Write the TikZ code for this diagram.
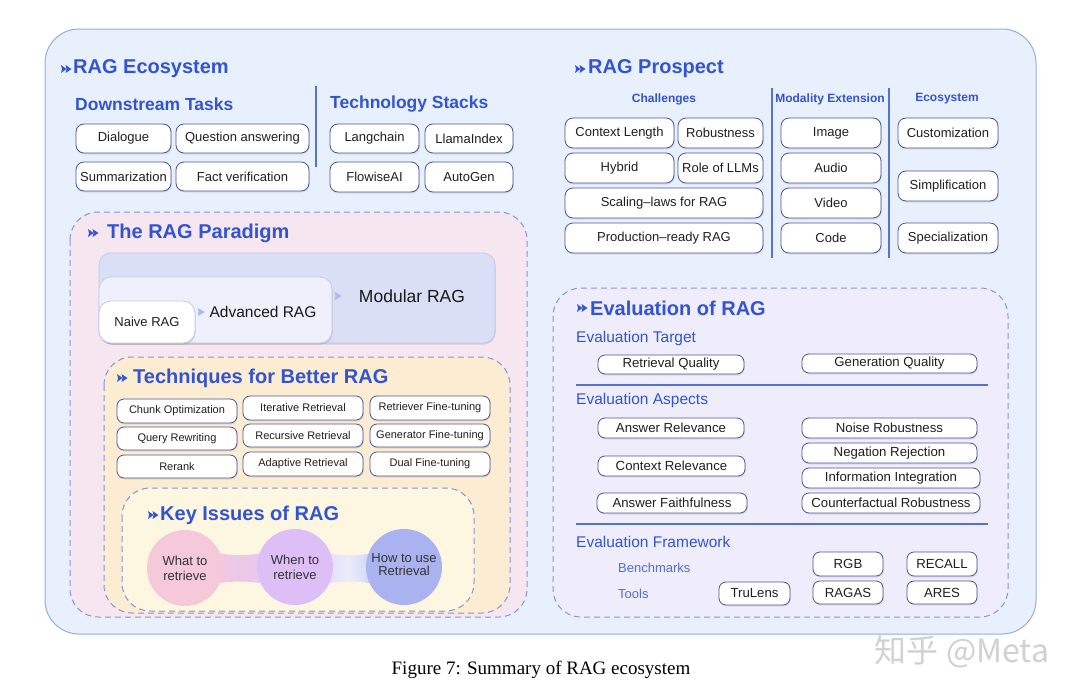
\documentclass[tikz,border=0pt]{standalone}
\usepackage{fontspec}
\setmainfont{Liberation Sans}
\newfontfamily\capfont{Liberation Serif}
\newfontfamily\cjkfont{Noto Sans CJK SC}
\usetikzlibrary{shadows,arrows.meta}
\definecolor{titleblue}{RGB}{50,84,208}
\definecolor{bxborder}{RGB}{72,86,150}
\definecolor{outerfill}{RGB}{233,240,253}
\definecolor{outerdraw}{RGB}{150,172,228}
\definecolor{dashc}{RGB}{135,148,218}
\definecolor{pinkfill}{RGB}{246,230,240}
\definecolor{orangefill}{RGB}{252,236,210}
\definecolor{creamfill}{RGB}{253,247,226}
\definecolor{evalfill}{RGB}{239,237,252}
\definecolor{divc}{RGB}{85,115,205}
\definecolor{modfill}{RGB}{218,223,246}
\definecolor{advfill}{RGB}{238,240,251}
\definecolor{pdraw}{RGB}{195,202,240}
\definecolor{parrow}{RGB}{180,186,236}
\definecolor{kpink}{RGB}{245,200,218}
\definecolor{kpurple}{RGB}{222,190,246}
\definecolor{kblue}{RGB}{170,178,240}
\newcommand\mybox[6]{\node[bx,#1,minimum width={(#4-#2)*1pt},minimum height={(#5-#3)*1pt}] (#6) at ({(#2+#4)/2},{(#3+#5)/2})}
\tikzset{
  bx/.style={draw=bxborder, line width=0.8pt, fill=white, rounded corners=8pt, inner sep=0pt,
    font=\fontsize{13}{15}\selectfont, text=black!88,
    drop shadow={opacity=0.18, shadow xshift=0.8pt, shadow yshift=-1.5pt}},
  sm/.style={font=\fontsize{11}{13}\selectfont, rounded corners=7pt},
  ev/.style={font=\fontsize{13.2}{15}\selectfont, rounded corners=7pt},
  pbox/.style={draw=pdraw, fill=modfill, rounded corners=12pt, drop shadow={opacity=0.10, shadow xshift=0.5pt, shadow yshift=-1.5pt}},
  ttlfont/.style={font=\fontsize{20}{24}\selectfont\bfseries, text=titleblue, inner sep=0pt, anchor=west},
  subttl/.style={font=\fontsize{17.5}{21}\selectfont\bfseries, text=titleblue, inner sep=0pt, anchor=west},
  hdr/.style={font=\fontsize{12}{14}\selectfont\bfseries, text=titleblue, inner sep=0pt},
  evlbl/.style={font=\fontsize{15.5}{18}\selectfont, text=titleblue, inner sep=0pt, anchor=west},
  evsub/.style={font=\fontsize{13}{15}\selectfont, text=titleblue!85, inner sep=0pt, anchor=west},
  region/.style={draw=dashc, line width=1pt, dash pattern=on 6pt off 4pt, rounded corners=28pt},
  divline/.style={draw=divc, line width=1.3pt},
  circ/.style={circle, minimum size=76pt, inner sep=0pt, align=center, font=\fontsize{13}{15}\selectfont, text=black!80},
  ttl/.pic={\fill[titleblue] (0,-4)--(5.5,0)--(0,4)--(1,0)--cycle;
            \fill[titleblue] (4.5,-4)--(10.5,0)--(4.5,4)--(5.5,0)--cycle;}
}
\begin{document}
\begin{tikzpicture}[x=1pt,y=-1pt]
\useasboundingbox (0,0) rectangle (1080,696);
\fill[white] (0,0) rectangle (1080,696);
% outer box
\path[draw=outerdraw, fill=outerfill, line width=1pt, rounded corners=34pt] (45,29) rectangle (1036,634);

% ---------- RAG Ecosystem ----------
\pic at (61,69) {ttl};
\node[ttlfont] (ecot) at (73,69) {RAG Ecosystem};
\node[subttl] (dst) at (75,104) {Downstream Tasks};
\node[subttl] (tst) at (330,104) {Technology Stacks};
\coordinate (d1a) at (316,86); \coordinate (d1b) at (316,167);
\draw[divline] (d1a) -- (d1b);
\mybox{}{76}{124}{171}{153}{dlg} {Dialogue};
\mybox{}{176}{124}{309}{153}{qa} {Question answering};
\mybox{}{76}{162}{171}{191}{summ} {Summarization};
\mybox{}{176}{162}{309}{191}{fact} {Fact verification};
\mybox{}{330}{124}{419}{153}{lang} {Langchain};
\mybox{}{425}{124}{513}{153}{llama} {LlamaIndex};
\mybox{}{330}{162}{419}{192}{flow} {FlowiseAI};
\mybox{}{425}{162}{513}{192}{autog} {AutoGen};

% ---------- RAG Prospect ----------
\pic at (575,69) {ttl};
\node[ttlfont] (prost) at (588,69) {RAG Prospect};
\node[hdr] (chh) at (664,99) {Challenges};
\node[hdr] (modh) at (830,99) {Modality Extension};
\node[hdr] (ecoh) at (947,99) {Ecosystem};
\coordinate (d2a) at (772,88); \coordinate (d2b) at (772,258);
\coordinate (d3a) at (889,88); \coordinate (d3b) at (889,258);
\draw[divline] (d2a) -- (d2b);
\draw[divline] (d3a) -- (d3b);
\mybox{}{565}{118}{674}{148}{ctx} {Context Length};
\mybox{}{678}{118}{763}{148}{rob} {Robustness};
\mybox{}{565}{153}{674}{183}{hyb} {Hybrid};
\mybox{}{678}{153}{763}{183}{role} {Role of LLMs};
\mybox{}{565}{188}{763}{218}{scal} {Scaling–laws for RAG};
\mybox{}{565}{223}{763}{253}{prod} {Production–ready RAG};
\mybox{}{781}{118}{881}{148}{img} {Image};
\mybox{}{781}{153}{881}{183}{aud} {Audio};
\mybox{}{781}{188}{881}{218}{vid} {Video};
\mybox{}{781}{223}{881}{253}{code} {Code};
\mybox{}{898}{118}{998}{148}{cust} {Customization};
\mybox{}{898}{171}{998}{201}{simp} {Simplification};
\mybox{}{898}{223}{998}{253}{spec} {Specialization};

% ---------- RAG Paradigm ----------
\path[region, fill=pinkfill] (70,212) rectangle (527,617);
\pic at (88,233) {ttl};
\node[ttlfont] (parat) at (107,233) {The RAG Paradigm};
\mybox{pbox}{99}{253}{495}{343}{modb} {};
\mybox{pbox, fill=advfill}{99}{277}{332}{343}{advb} {};
\mybox{pbox, fill=white}{99}{301}{195}{343}{naive} {\fontsize{13}{15}\selectfont Naive RAG};
\node[inner sep=0pt, font=\fontsize{15.5}{18}\selectfont, text=black!90] (advl) at (263,312) {Advanced RAG};
\node[inner sep=0pt, font=\fontsize{17.5}{20}\selectfont, text=black!90] (modl) at (412,296) {Modular RAG};
\fill[parrow] ([xshift=3pt]naive.east |- advl) -- ++(-0.5,-4) -- ++(7,4) -- ++(-7,4) -- cycle;
\fill[parrow] ([xshift=3pt]advb.east |- modl) -- ++(-0.5,-4) -- ++(7,4) -- ++(-7,4) -- cycle;

% ---------- Techniques ----------
\path[region, fill=orangefill] (104,357) rectangle (510,613);
\pic at (117,378) {ttl};
\node[ttlfont] (techt) at (133,378) {Techniques for Better RAG};
\mybox{sm}{117}{399}{237}{423}{chunk} {Chunk Optimization};
\mybox{sm}{117}{427}{237}{450}{qrw} {Query Rewriting};
\mybox{sm}{117}{455}{237}{478}{rerank} {Rerank};
\mybox{sm}{243}{396}{363}{420}{iter} {Iterative Retrieval};
\mybox{sm}{243}{424}{363}{447}{recur} {Recursive Retrieval};
\mybox{sm}{243}{452}{363}{476}{adapt} {Adaptive Retrieval};
\mybox{sm}{370}{396}{490}{420}{rft} {Retriever Fine-tuning};
\mybox{sm}{370}{424}{490}{447}{gft} {Generator Fine-tuning};
\mybox{sm}{370}{452}{490}{476}{dft} {Dual Fine-tuning};

% ---------- Key Issues ----------
\path[region, fill=creamfill] (122,488) rectangle (474,611);
\pic at (148,515) {ttl};
\node[ttlfont] (keyt) at (160,515) {Key Issues of RAG};
\shade[left color=kpink, right color=kpurple!85] (185,547) .. controls (240,558) .. (295,547) -- (295,589) .. controls (240,579) .. (185,589) -- cycle;
\shade[left color=kpurple!80, right color=kblue, middle color=kblue!25] (295,547) .. controls (350,558) .. (404,547) -- (404,589) .. controls (350,579) .. (295,589) -- cycle;
\node[circ, fill=kpink] (what) at (185,568) {What to\\retrieve};
\node[circ, fill=kpurple] (when) at (295,567) {When to\\retrieve};
\node[circ, fill=kblue] (how) at (404,567) {\raisebox{5pt}{\shortstack{How to use\\Retrieval}}};

% ---------- Evaluation ----------
\path[region, fill=evalfill] (553,288) rectangle (1008,617);
\pic at (577,308) {ttl};
\node[ttlfont] (evalt) at (590,308) {Evaluation of RAG};
\node[evlbl] (evtg) at (576,338) {Evaluation Target};
\mybox{ev}{598}{355}{744}{374}{retq} {Retrieval Quality};
\mybox{ev}{802}{354}{977}{373}{genq} {Generation Quality};
\coordinate (l1a) at (576,385); \coordinate (l1b) at (988,385);
\draw[divline] (l1a) -- (l1b);
\node[evlbl] (evas) at (576,400) {Evaluation Aspects};
\mybox{ev}{598}{418}{744}{438}{ansr} {Answer Relevance};
\mybox{ev}{802}{418}{977}{438}{noise} {Noise Robustness};
\mybox{ev}{802}{443}{977}{463}{neg} {Negation Rejection};
\mybox{ev}{598}{456}{745}{476}{ctxr} {Context Relevance};
\mybox{ev}{802}{468}{980}{488}{info} {Information Integration};
\mybox{ev}{597}{493}{747}{513}{ansf} {Answer Faithfulness};
\mybox{ev}{802}{493}{980}{513}{cf} {Counterfactual Robustness};
\coordinate (l2a) at (576,524); \coordinate (l2b) at (988,524);
\draw[divline] (l2a) -- (l2b);
\node[evlbl] (evfw) at (576,542) {Evaluation Framework};
\node[evsub] (bench) at (618,568) {Benchmarks};
\node[evsub] (tools) at (618,594) {Tools};
\mybox{ev}{813}{552}{883}{576}{rgb} {RGB};
\mybox{ev}{907}{552}{977}{576}{recall} {RECALL};
\mybox{ev}{813}{581}{883}{604}{ragas} {RAGAS};
\mybox{ev}{907}{581}{977}{604}{ares} {ARES};
\mybox{ev}{719}{582}{790}{605}{trul} {TruLens};

% ---------- caption and watermark ----------
\node[inner sep=0pt, font=\capfont\fontsize{19}{22}\selectfont] (cap) at (541,670) {Figure 7: Summary of RAG ecosystem};
\node[inner sep=0pt, font=\cjkfont\fontsize{32}{36}\selectfont, text=black!18] (wm) at (962,652) {知乎 @Meta};
\end{tikzpicture}
\end{document}
